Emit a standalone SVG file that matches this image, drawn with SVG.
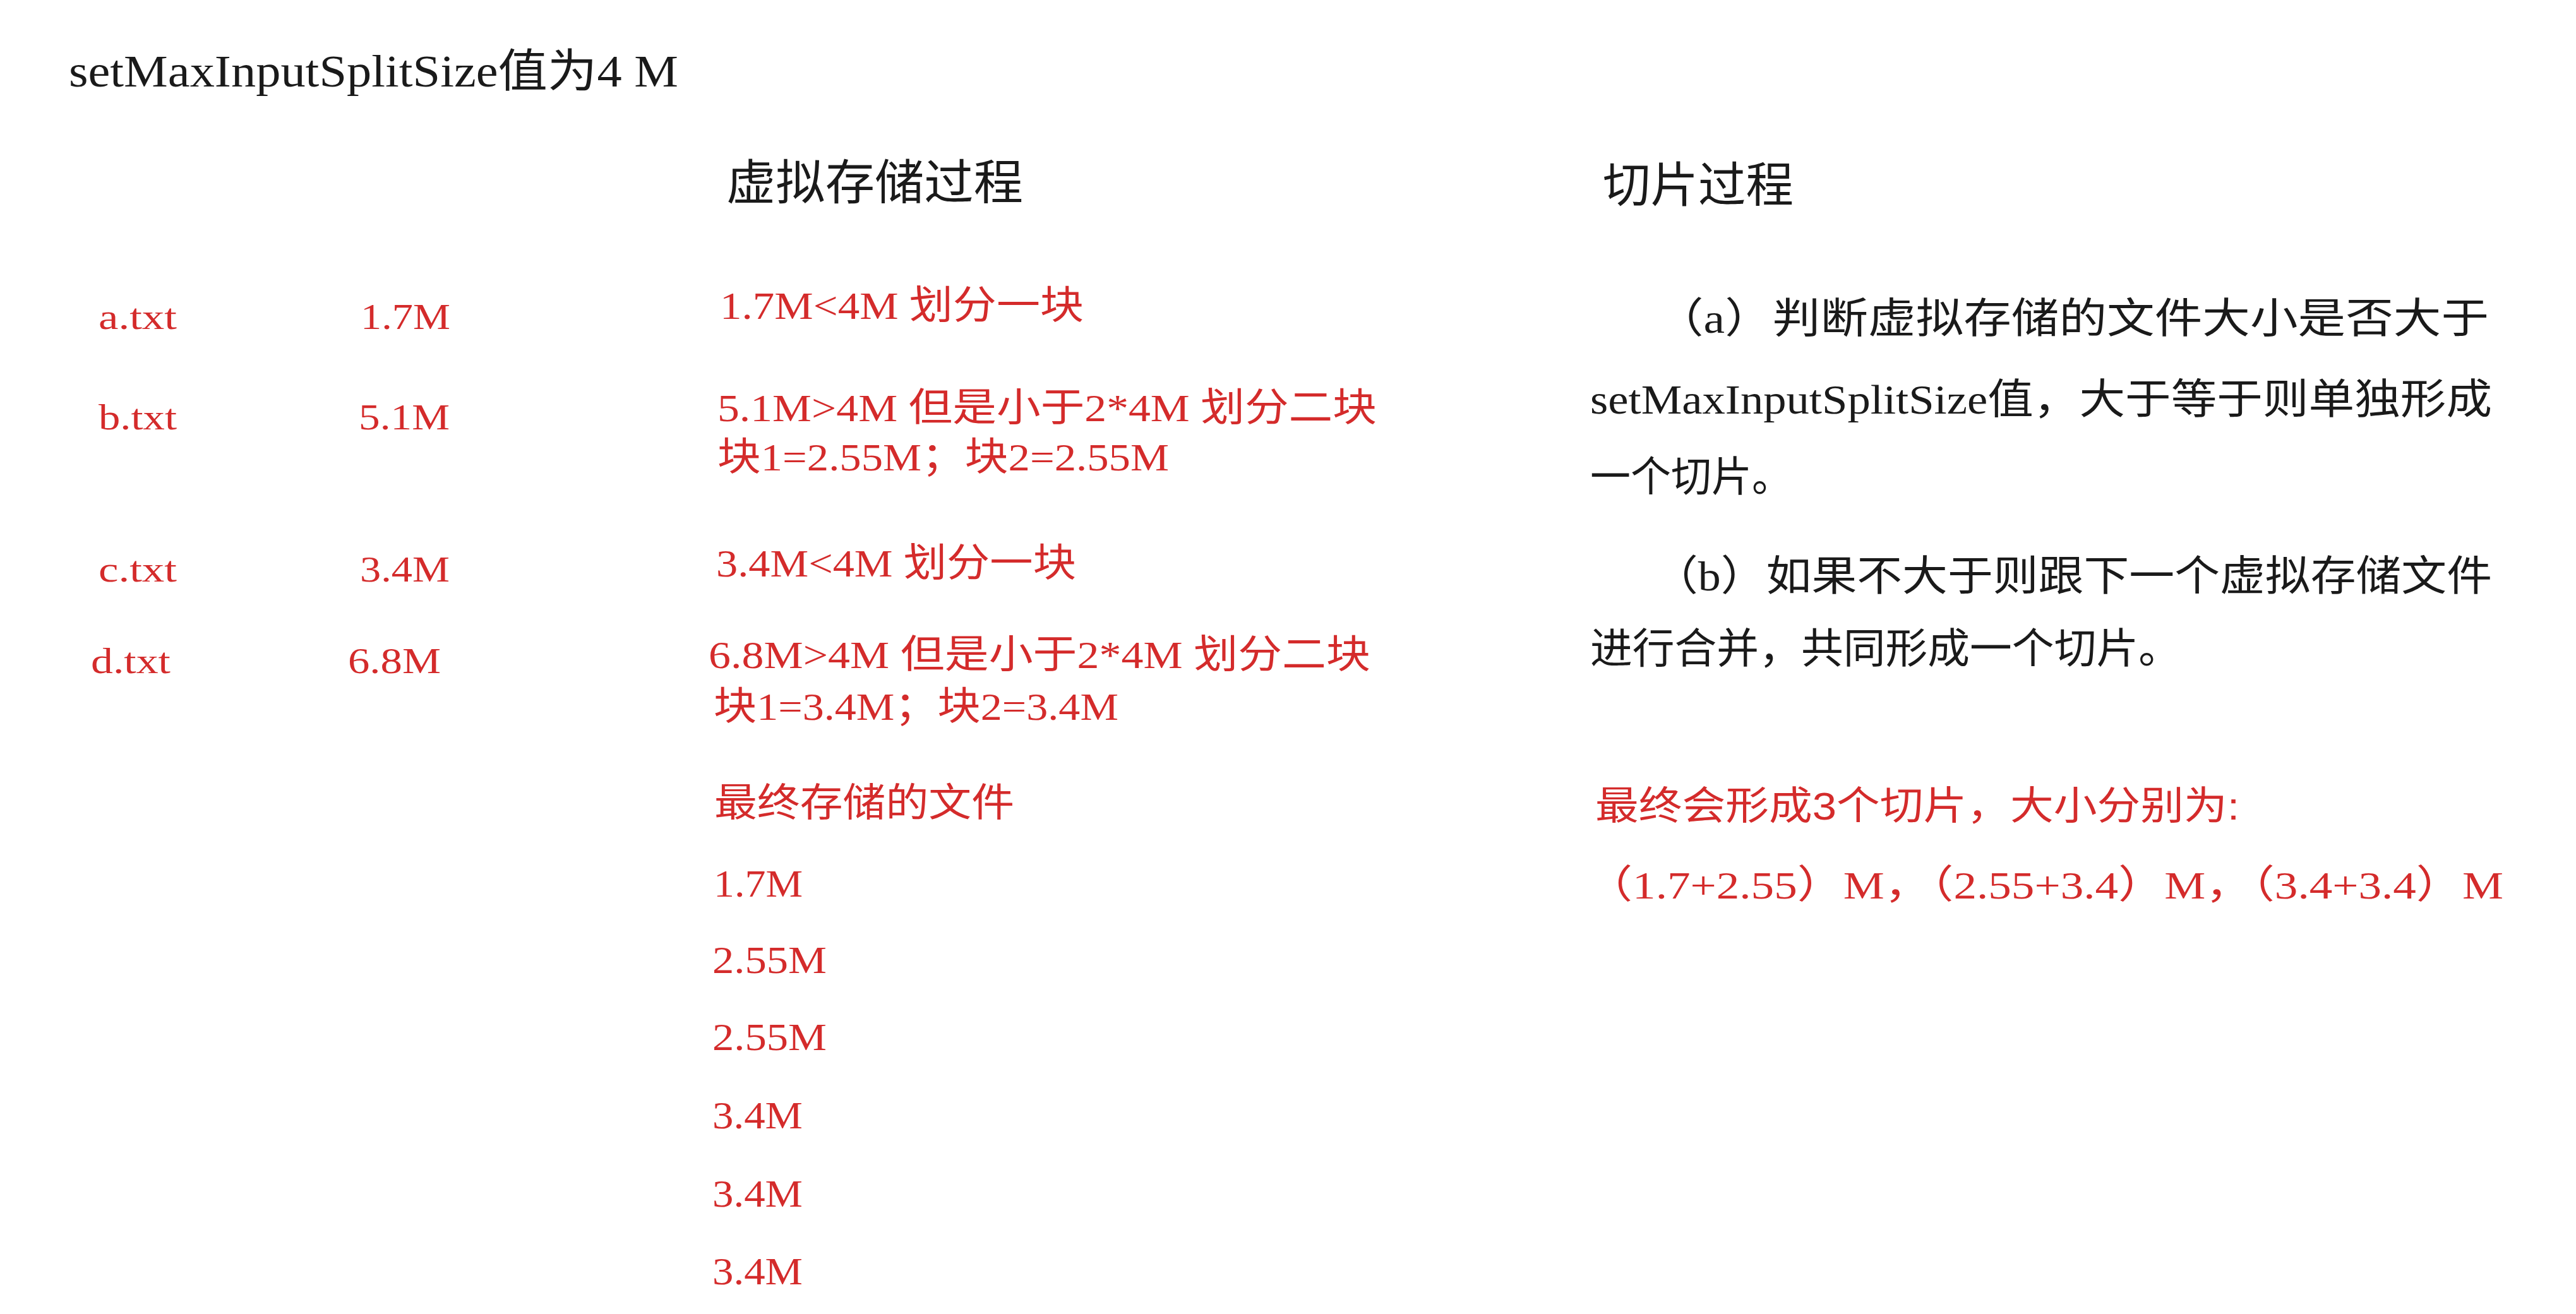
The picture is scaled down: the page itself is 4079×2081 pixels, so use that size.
<svg xmlns="http://www.w3.org/2000/svg" width="4079" height="2081" viewBox="0 0 4079 2081">
<style>
.bg{fill:#ffffff}
.hd{font-family:"Noto Sans CJK SC","Liberation Sans",sans-serif;fill:#1a1a1a}
.ser{font-family:"Liberation Serif","Noto Sans CJK SC",serif}
.san{font-family:"Liberation Sans","Noto Sans CJK SC",sans-serif}
.red{fill:#d42b2b}
.blk{fill:#1a1a1a}
</style>
<rect class="bg" x="0" y="0" width="4079" height="2081"/>
<g id="title">
<text class="ser blk" x="109" y="137" font-size="72" textLength="965" lengthAdjust="spacingAndGlyphs">setMaxInputSplitSize值为4 M</text>
</g>
<g id="headers">
<text class="hd" x="1150" y="316" font-size="76" textLength="470" lengthAdjust="spacingAndGlyphs">虚拟存储过程</text>
<text class="hd" x="2538" y="320" font-size="76" textLength="302" lengthAdjust="spacingAndGlyphs">切片过程</text>
</g>
<g id="files" class="ser red" font-size="56">
<text x="156" y="521" textLength="124" lengthAdjust="spacingAndGlyphs">a.txt</text>
<text x="571" y="521" textLength="142" lengthAdjust="spacingAndGlyphs">1.7M</text>
<text x="156" y="680" textLength="124" lengthAdjust="spacingAndGlyphs">b.txt</text>
<text x="568" y="680" textLength="144" lengthAdjust="spacingAndGlyphs">5.1M</text>
<text x="156" y="921" textLength="124" lengthAdjust="spacingAndGlyphs">c.txt</text>
<text x="570" y="921" textLength="142" lengthAdjust="spacingAndGlyphs">3.4M</text>
<text x="144" y="1066" textLength="126" lengthAdjust="spacingAndGlyphs">d.txt</text>
<text x="551" y="1066" textLength="147" lengthAdjust="spacingAndGlyphs">6.8M</text>
</g>
<g id="virtual-storage" class="ser red" font-size="62">
<text x="1140" y="505" textLength="576" lengthAdjust="spacingAndGlyphs">1.7M&lt;4M 划分一块</text>
<text x="1136" y="667" textLength="1044" lengthAdjust="spacingAndGlyphs">5.1M&gt;4M 但是小于2*4M  划分二块</text>
<text x="1136" y="745" textLength="715" lengthAdjust="spacingAndGlyphs">块1=2.55M；块2=2.55M</text>
<text x="1134" y="913" textLength="570" lengthAdjust="spacingAndGlyphs">3.4M&lt;4M 划分一块</text>
<text x="1122" y="1058" textLength="1048" lengthAdjust="spacingAndGlyphs">6.8M&gt;4M 但是小于2*4M  划分二块</text>
<text x="1130" y="1140" textLength="641" lengthAdjust="spacingAndGlyphs">块1=3.4M；块2=3.4M</text>
<text class="san" x="1131" y="1293" textLength="475" lengthAdjust="spacingAndGlyphs">最终存储的文件</text>
</g>
<g id="final-files" class="ser red" font-size="62">
<text x="1130" y="1420" textLength="141" lengthAdjust="spacingAndGlyphs">1.7M</text>
<text x="1128" y="1541" textLength="181" lengthAdjust="spacingAndGlyphs">2.55M</text>
<text x="1128" y="1663" textLength="181" lengthAdjust="spacingAndGlyphs">2.55M</text>
<text x="1128" y="1787" textLength="143" lengthAdjust="spacingAndGlyphs">3.4M</text>
<text x="1128" y="1911" textLength="143" lengthAdjust="spacingAndGlyphs">3.4M</text>
<text x="1128" y="2034" textLength="143" lengthAdjust="spacingAndGlyphs">3.4M</text>
</g>
<g id="split-process" class="ser blk" font-size="66">
<text x="2622" y="527" textLength="1319" lengthAdjust="spacingAndGlyphs">（a）判断虚拟存储的文件大小是否大于</text>
<text x="2518" y="655" textLength="1428" lengthAdjust="spacingAndGlyphs">setMaxInputSplitSize值，大于等于则单独形成</text>
<text x="2518" y="778" textLength="320" lengthAdjust="spacingAndGlyphs">一个切片。</text>
<text x="2617" y="935" textLength="1329" lengthAdjust="spacingAndGlyphs">（b）如果不大于则跟下一个虚拟存储文件</text>
<text x="2518" y="1050" textLength="935" lengthAdjust="spacingAndGlyphs">进行合并，共同形成一个切片。</text>
</g>
<g id="result" class="red" font-size="62">
<text class="san" x="2526" y="1298" textLength="1020" lengthAdjust="spacingAndGlyphs">最终会形成3个切片，大小分别为:</text>
<text class="ser" x="2512" y="1423" textLength="1452" lengthAdjust="spacingAndGlyphs">（1.7+2.55）M，（2.55+3.4）M，（3.4+3.4）M</text>
</g>
</svg>
